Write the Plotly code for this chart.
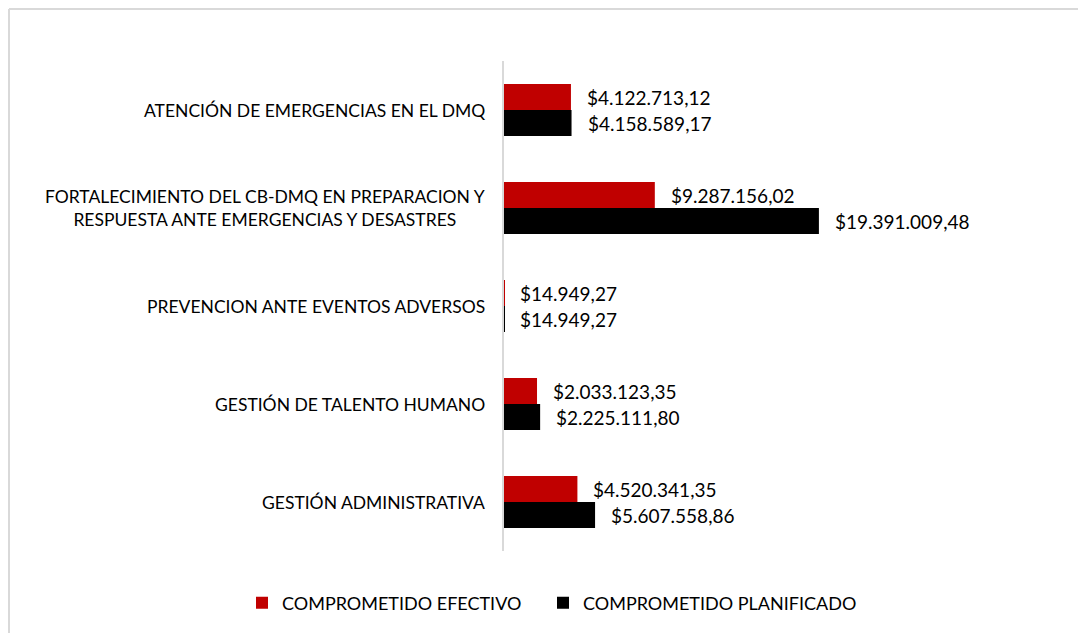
import plotly.graph_objects as go

categories = [
    "ATENCIÓN DE EMERGENCIAS EN EL DMQ",
    "FORTALECIMIENTO DEL CB-DMQ EN PREPARACION Y<br>RESPUESTA ANTE EMERGENCIAS Y DESASTRES",
    "PREVENCION ANTE EVENTOS ADVERSOS",
    "GESTIÓN DE TALENTO HUMANO",
    "GESTIÓN ADMINISTRATIVA",
]
efectivo = [4122713.12, 9287156.02, 14949.27, 2033123.35, 4520341.35]
planificado = [4158589.17, 19391009.48, 14949.27, 2225111.80, 5607558.86]
series_names = ["COMPROMETIDO EFECTIVO", "COMPROMETIDO PLANIFICADO"]
series_colors = ["#C00000", "#000000"]

FONT = "Lato"


def fmt(v):
    s = f"{v:,.2f}"
    return "$" + s.replace(",", "X").replace(".", ",").replace("X", ".")


fig = go.Figure()
for name, vals, col, lg in zip(series_names, [efectivo, planificado], series_colors,
                               ["legend", "legend2"]):
    fig.add_trace(go.Bar(
        y=categories, x=vals, name=name, orientation="h",
        marker=dict(color=col, line=dict(width=0)),
        hoverinfo="skip", legend=lg,
    ))

annotations = []
for vals, shift in [(efectivo, 13), (planificado, -13)]:
    for c, v in zip(categories, vals):
        annotations.append(dict(
            x=v, y=c, xref="x", yref="y", text=fmt(v), showarrow=False,
            xanchor="left", yanchor="middle", xshift=14, yshift=shift,
            font=dict(family=FONT, size=19, color="#000000"),
        ))
for c in categories:
    annotations.append(dict(
        x=0, y=c, xref="paper", yref="y", text=c, showarrow=False,
        xanchor="right", yanchor="middle", xshift=-17, align="center",
        font=dict(family=FONT, size=17.5, color="#000000"),
    ))

# page has an 8px body margin: figure origin sits at screen (8, 8)
OFF = 8
W, H = 1086 - OFF, 633 - OFF
L, R, T, B = 504 - OFF, 176, 61 - OFF, 82
pw, ph = W - L - R, H - T - B


def px(xs):
    return (xs - OFF - L) / pw


def py(ys):
    return (H - B - (ys - OFF)) / ph


shapes = [
    dict(type="line", xref="paper", yref="paper", x0=px(9), x1=px(9), y0=py(700), y1=py(9),
         line=dict(color="#D9D9D9", width=2)),
    dict(type="line", xref="paper", yref="paper", x0=px(9), x1=px(1200), y0=py(9), y1=py(9),
         line=dict(color="#D9D9D9", width=2)),
]

legend_common = dict(orientation="h", xref="paper", yref="paper", xanchor="left",
                     y=py(603), yanchor="middle",
                     font=dict(family=FONT, size=18, color="#000000"), itemwidth=30,
                     bgcolor="rgba(0,0,0,0)")

fig.update_layout(
    width=W, height=H,
    margin=dict(l=L, r=R, t=T, b=B),
    paper_bgcolor="white", plot_bgcolor="white",
    barmode="group", bargap=0.47, bargroupgap=0,
    font=dict(family=FONT, size=18, color="#000000"),
    xaxis=dict(range=[0, 25e6], visible=False, fixedrange=True),
    yaxis=dict(autorange="reversed", showticklabels=False, ticks="",
               showline=True, linecolor="#D9D9D9", linewidth=2, showgrid=False,
               zeroline=False, fixedrange=True),
    showlegend=True,
    legend=dict(x=px(242), **legend_common),
    legend2=dict(x=px(543), **legend_common),
    annotations=annotations,
    shapes=shapes,
)

fig.write_html("out.html")
